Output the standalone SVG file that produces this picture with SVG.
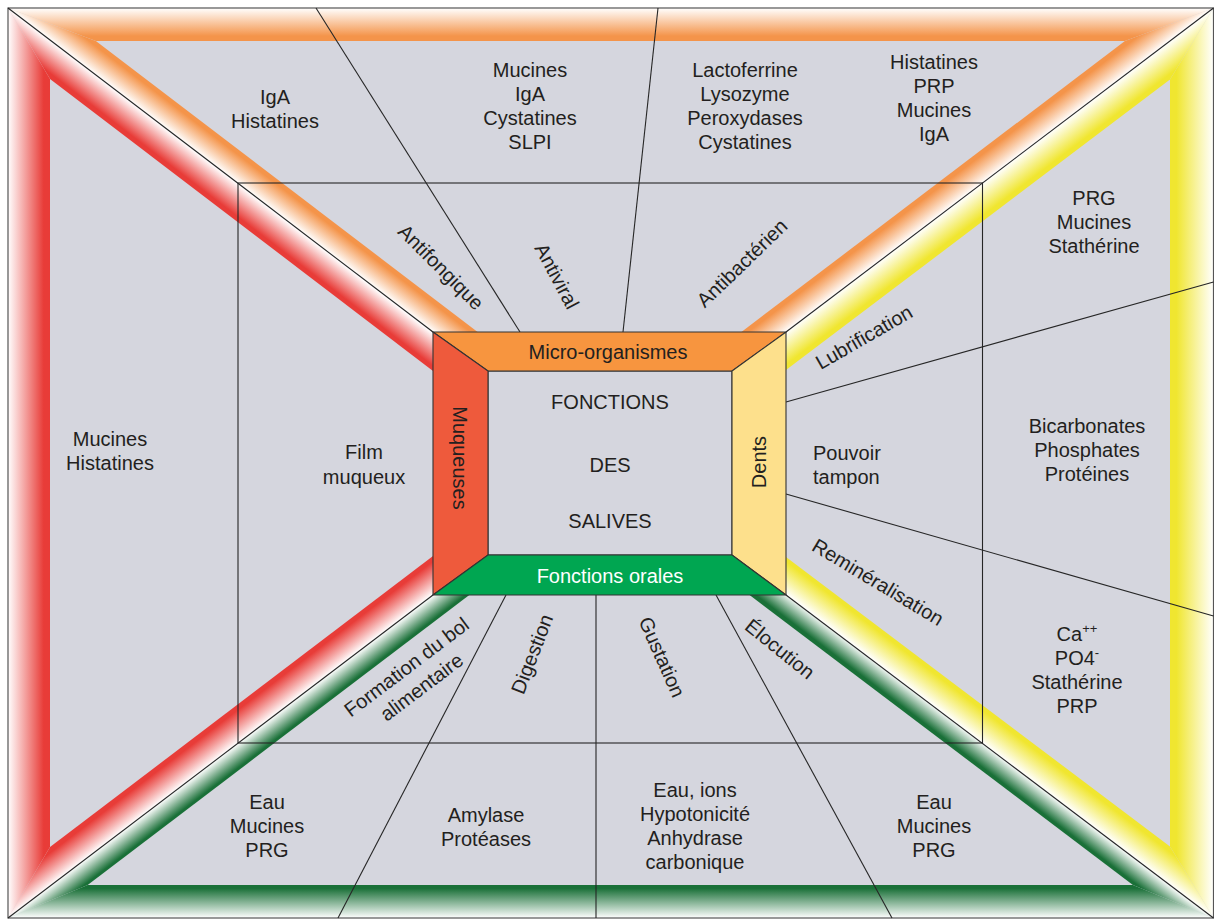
<svg xmlns="http://www.w3.org/2000/svg" width="1214" height="921" viewBox="0 0 1214 921">
<style>
text{font-family:"Liberation Sans",Arial,Helvetica,sans-serif;font-size:20px;fill:#231f20;text-anchor:middle}
.ln{stroke:#262626;stroke-width:1.1;fill:none}
.box{stroke:#333;stroke-width:1.1}
</style>
<defs>
<linearGradient id="gOT" gradientUnits="userSpaceOnUse" x1="0" y1="8" x2="0" y2="41"><stop offset="0" stop-color="#fff"/><stop offset="0.85" stop-color="#f4944a"/></linearGradient>
<linearGradient id="gOL" gradientUnits="userSpaceOnUse" x1="8" y1="8" x2="24.4" y2="-13.5"><stop offset="0" stop-color="#fff"/><stop offset="0.85" stop-color="#f4944a"/></linearGradient>
<linearGradient id="gOR" gradientUnits="userSpaceOnUse" x1="1213.5" y1="8" x2="1197.2" y2="-13.5"><stop offset="0" stop-color="#fff"/><stop offset="0.85" stop-color="#f4944a"/></linearGradient>
<linearGradient id="gRL" gradientUnits="userSpaceOnUse" x1="8" y1="0" x2="50" y2="0"><stop offset="0" stop-color="#fff"/><stop offset="0.85" stop-color="#e83c38"/></linearGradient>
<linearGradient id="gRT" gradientUnits="userSpaceOnUse" x1="8" y1="8" x2="-10.8" y2="32.6"><stop offset="0" stop-color="#fff"/><stop offset="0.85" stop-color="#e83c38"/></linearGradient>
<linearGradient id="gRB" gradientUnits="userSpaceOnUse" x1="8" y1="918" x2="-10.8" y2="893.3"><stop offset="0" stop-color="#fff"/><stop offset="0.85" stop-color="#e83c38"/></linearGradient>
<linearGradient id="gYR" gradientUnits="userSpaceOnUse" x1="1213.5" y1="0" x2="1170" y2="0"><stop offset="0" stop-color="#fff"/><stop offset="0.85" stop-color="#f0e630"/></linearGradient>
<linearGradient id="gYT" gradientUnits="userSpaceOnUse" x1="1213.5" y1="8" x2="1232.2" y2="32.7"><stop offset="0" stop-color="#fff"/><stop offset="0.85" stop-color="#f0e630"/></linearGradient>
<linearGradient id="gYB" gradientUnits="userSpaceOnUse" x1="1213.5" y1="918" x2="1232.2" y2="893.3"><stop offset="0" stop-color="#fff"/><stop offset="0.85" stop-color="#f0e630"/></linearGradient>
<linearGradient id="gGB" gradientUnits="userSpaceOnUse" x1="0" y1="918" x2="0" y2="885"><stop offset="0" stop-color="#fff"/><stop offset="0.9" stop-color="#1a7038"/></linearGradient>
<linearGradient id="gGL" gradientUnits="userSpaceOnUse" x1="8" y1="918" x2="21.3" y2="935.5"><stop offset="0" stop-color="#fff"/><stop offset="0.9" stop-color="#1a7038"/></linearGradient>
<linearGradient id="gGR" gradientUnits="userSpaceOnUse" x1="1213.5" y1="918" x2="1200.2" y2="935.5"><stop offset="0" stop-color="#fff"/><stop offset="0.9" stop-color="#1a7038"/></linearGradient>
</defs>
<rect x="0" y="0" width="1214" height="921" fill="#fff"/>
<g id="frame">
<rect x="8" y="8" width="1205.5" height="910" fill="#d5d6de"/>
<polygon points="8,8 1213.5,8 1124.9,41 95.9,41" fill="url(#gOT)"/>
<polygon points="8,8 95.9,41 477.6,332 433,332" fill="url(#gOL)"/>
<polygon points="1213.5,8 1124.9,41 741.4,332 786,332" fill="url(#gOR)"/>
<polygon points="8,8 50,79 50,847.1 8,918" fill="url(#gRL)"/>
<polygon points="8,8 433,332 433,370.9 50,79" fill="url(#gRT)"/>
<polygon points="8,918 50,847.1 433,556 433,595" fill="url(#gRB)"/>
<polygon points="1213.5,8 1213.5,918 1170,846.6 1170,79.5" fill="url(#gYR)"/>
<polygon points="1213.5,8 1170,79.5 786,370.1 786,332" fill="url(#gYT)"/>
<polygon points="1213.5,918 786,595 786,556.9 1170,846.6" fill="url(#gYB)"/>
<polygon points="8,918 1213.5,918 1132.9,885 87.7,885" fill="url(#gGB)"/>
<polygon points="8,918 433,595 469.3,595 87.7,885" fill="url(#gGL)"/>
<polygon points="1213.5,918 1132.9,885 749.6,595 786,595" fill="url(#gGR)"/>
<rect x="8" y="8" width="1205.5" height="910" fill="none" stroke="#555" stroke-width="1.2"/>
<rect x="238" y="183" width="744.5" height="560" class="ln"/>
</g>
<g id="connectors">
<line class="ln" x1="8" y1="8" x2="433" y2="332"/>
<line class="ln" x1="1213.5" y1="8" x2="786" y2="332"/>
<line class="ln" x1="8" y1="918" x2="433" y2="595"/>
<line class="ln" x1="1213.5" y1="918" x2="786" y2="595"/>
<line class="ln" x1="316" y1="8" x2="520" y2="332"/>
<line class="ln" x1="658" y1="8" x2="623" y2="332"/>
<line class="ln" x1="786" y1="402" x2="1213.5" y2="282"/>
<line class="ln" x1="786" y1="494" x2="1213.5" y2="616"/>
<line class="ln" x1="506" y1="595" x2="338" y2="918"/>
<line class="ln" x1="596" y1="595" x2="596" y2="918"/>
<line class="ln" x1="716" y1="595" x2="892" y2="918"/>
</g>
<g id="center">
<rect x="488" y="371" width="244" height="184" fill="#d5d6de" class="box"/>
<text x="610" y="409">FONCTIONS</text>
<text x="610" y="472">DES</text>
<text x="610" y="528">SALIVES</text>
</g>
<g id="micro-organismes">
<polygon class="box" points="433,332 786,332 732,371 488,371" fill="#f7953f"/>
<text x="608" y="359">Micro-organismes</text>
</g>
<g id="muqueuses">
<polygon class="box" points="433,332 488,371 488,555 433,595" fill="#ee5a3c"/>
<text transform="translate(460,458) rotate(90)" y="7">Muqueuses</text>
</g>
<g id="dents">
<polygon class="box" points="786,332 786,595 732,555 732,371" fill="#fde08c"/>
<text transform="translate(759,462) rotate(-90)" y="7">Dents</text>
</g>
<g id="fonctions-orales">
<polygon class="box" points="433,595 488,555 732,555 786,595" fill="#00a651"/>
<text x="610" y="583" style="fill:#fff">Fonctions orales</text>
</g>
<g id="antifongique">
<text transform="translate(441,267) rotate(45)" y="7">Antifongique</text>
<text x="275" y="104">IgA</text>
<text x="275" y="128">Histatines</text>
</g>
<g id="antiviral">
<text transform="translate(557,276) rotate(62)" y="7">Antiviral</text>
<text x="530" y="77">Mucines</text>
<text x="530" y="101">IgA</text>
<text x="530" y="125">Cystatines</text>
<text x="530" y="149">SLPI</text>
</g>
<g id="antibacterien">
<text transform="translate(742,263) rotate(-44)" y="7">Antibactérien</text>
<text x="745" y="77">Lactoferrine</text>
<text x="745" y="101">Lysozyme</text>
<text x="745" y="125">Peroxydases</text>
<text x="745" y="149">Cystatines</text>
<text x="934" y="69">Histatines</text>
<text x="934" y="93">PRP</text>
<text x="934" y="117">Mucines</text>
<text x="934" y="141">IgA</text>
</g>
<g id="lubrification">
<text transform="translate(864,337) rotate(-30)" y="7">Lubrification</text>
<text x="1094" y="205">PRG</text>
<text x="1094" y="229">Mucines</text>
<text x="1094" y="253">Stathérine</text>
</g>
<g id="pouvoir-tampon">
<text x="813" y="460" style="text-anchor:start">Pouvoir</text>
<text x="813" y="484" style="text-anchor:start">tampon</text>
<text x="1087" y="433">Bicarbonates</text>
<text x="1087" y="457">Phosphates</text>
<text x="1087" y="481">Protéines</text>
</g>
<g id="remineralisation">
<text transform="translate(878,582) rotate(31)" y="7">Reminéralisation</text>
<text x="1077" y="641">Ca<tspan font-size="13" dy="-8">++</tspan></text>
<text x="1077" y="665">PO4<tspan font-size="13" dy="-8">-</tspan></text>
<text x="1077" y="689">Stathérine</text>
<text x="1077" y="713">PRP</text>
</g>
<g id="film-muqueux">
<text x="364" y="459">Film</text>
<text x="364" y="484">muqueux</text>
<text x="110" y="446">Mucines</text>
<text x="110" y="470">Histatines</text>
</g>
<g id="formation-bol">
<g transform="translate(414,677) rotate(-37)">
<text y="-5.5">Formation du bol</text>
<text y="19.5">alimentaire</text>
</g>
<text x="267" y="809">Eau</text>
<text x="267" y="833">Mucines</text>
<text x="267" y="857">PRG</text>
</g>
<g id="digestion">
<text transform="translate(532,654) rotate(-69)" y="7">Digestion</text>
<text x="486" y="822">Amylase</text>
<text x="486" y="846">Protéases</text>
</g>
<g id="gustation">
<text transform="translate(662,657) rotate(66)" y="7">Gustation</text>
<text x="695" y="797">Eau, ions</text>
<text x="695" y="821">Hypotonicité</text>
<text x="695" y="845">Anhydrase</text>
<text x="695" y="869">carbonique</text>
</g>
<g id="elocution">
<text transform="translate(780,649) rotate(39)" y="7">Élocution</text>
<text x="934" y="809">Eau</text>
<text x="934" y="833">Mucines</text>
<text x="934" y="857">PRG</text>
</g>
</svg>
